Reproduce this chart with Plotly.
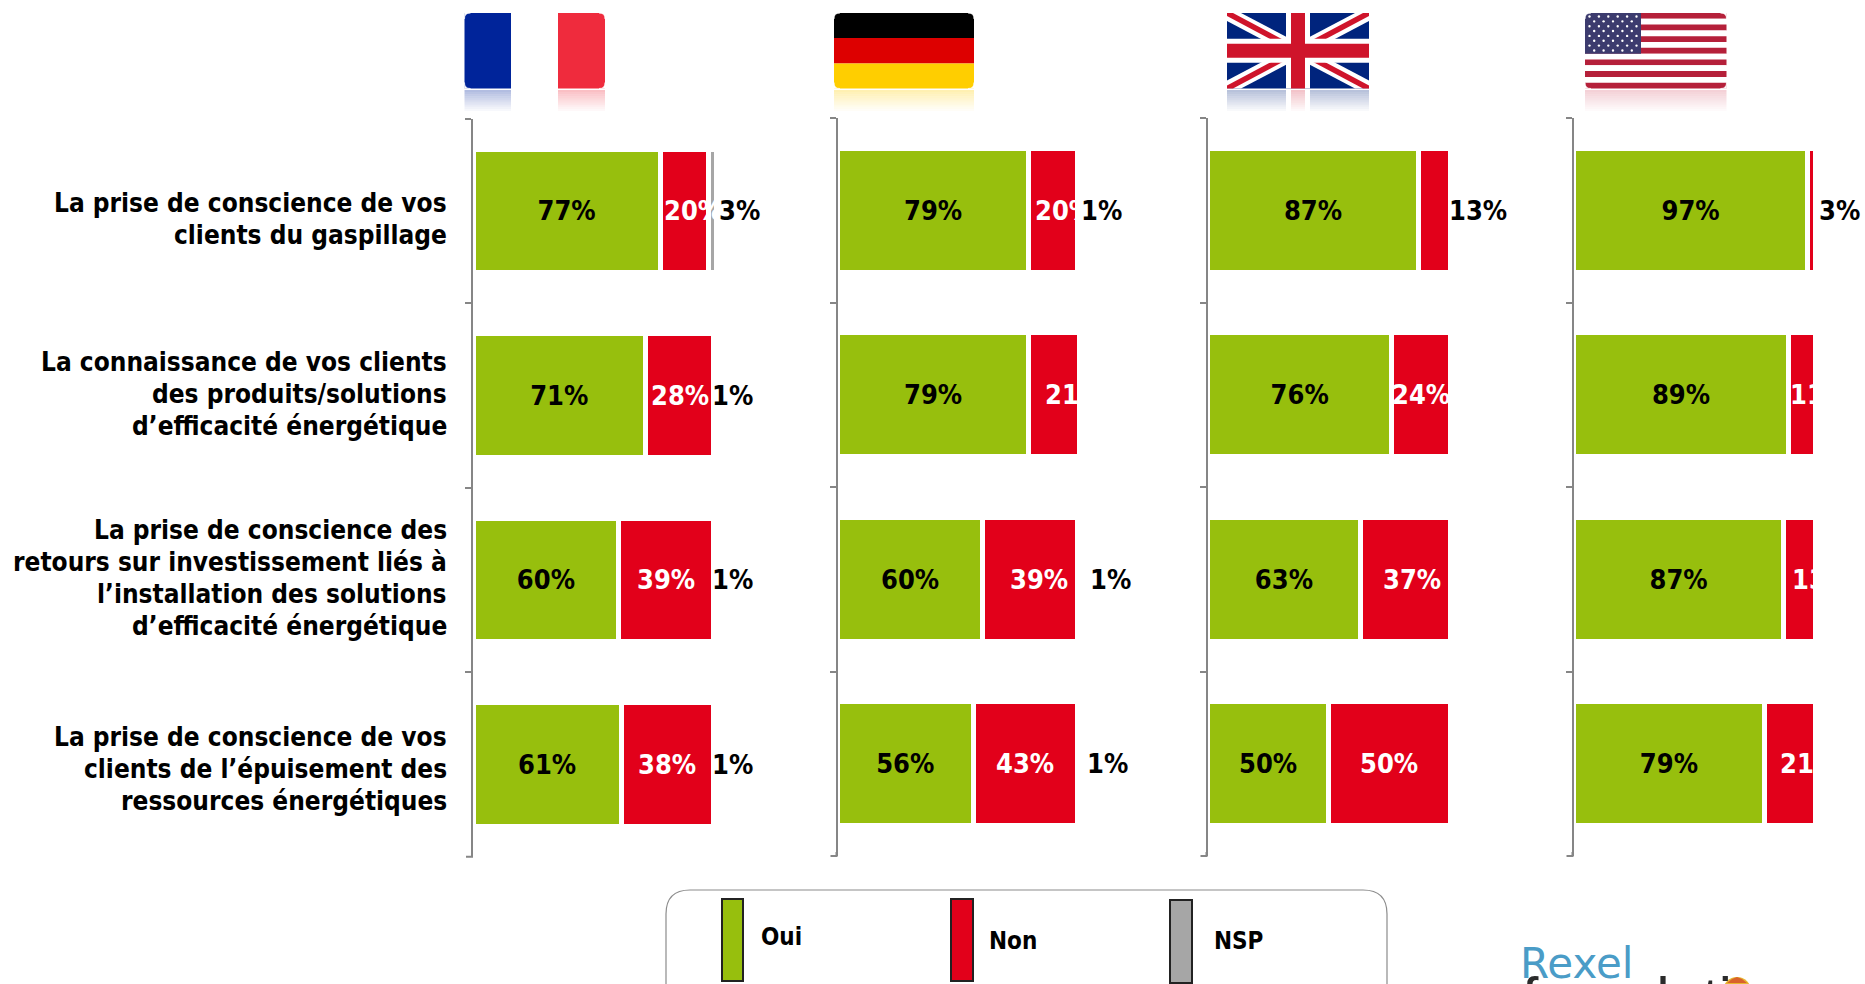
import plotly.graph_objects as go

W, H = 1865, 984

questions = [
    "La prise de conscience de vos<br>clients du gaspillage",
    "La connaissance de vos clients<br>des produits/solutions<br>d’efficacité énergétique",
    "La prise de conscience des<br>retours sur investissement liés à<br>l’installation des solutions<br>d’efficacité énergétique",
    "La prise de conscience de vos<br>clients de l’épuisement des<br>ressources énergétiques",
]
question_centre_px = [219, 394, 577.5, 768.5]
series_names = ["Oui", "Non", "NSP"]

fr_oui = [77, 71, 60, 61]
fr_non = [20, 28, 39, 38]
fr_nsp = [3, 1, 1, 1]
de_oui = [79, 79, 60, 56]
de_non = [20, 21, 39, 43]
de_nsp = [1, 0, 1, 1]
uk_oui = [87, 76, 63, 50]
uk_non = [13, 24, 37, 50]
uk_nsp = [0, 0, 0, 0]
us_oui = [97, 89, 87, 79]
us_non = [3, 11, 13, 21]
us_nsp = [0, 0, 0, 0]

panels = [(fr_oui, fr_non, fr_nsp), (de_oui, de_non, de_nsp),
          (uk_oui, uk_non, uk_nsp), (us_oui, us_non, us_nsp)]

GREEN, RED, GREY, AXIS = "#97BF0D", "#E2001A", "#A6A6A6", "#868686"
FONT = "DejaVu Sans Condensed"
VALUE_SIZE = 27
QUESTION_SIZE = 26
QUESTION_LEADING = 32

# pixel extents of each panel's 0-100 stretch; the axis runs on to 120 to carry the side labels
panel_px = [(473, 716), (837.5, 1079.5), (1207.5, 1450), (1573.5, 1815)]
AXIS_MAX = 120
panel_dy = [0.7, 0, 0, 0]
plot_top, plot_bottom = 118, 856

# labels to the right of the bars: panel, row, value, axis position
outside = [
    (0, 0, 3, 109.6), (0, 1, 1, 106.6), (0, 2, 1, 106.6), (0, 3, 1, 106.6),
    (1, 0, 1, 109.2), (1, 2, 1, 112.8), (1, 3, 1, 111.6),
    (2, 0, 13, 111.7),
    (3, 0, 3, 110.2),
]
no_inside_non = {(2, 0), (3, 0)}
# Non labels that are off-centre in their bars, shift in axis units
non_shift = {(0, 0): 3.7, (1, 0): 4.4, (1, 1): 8.4, (1, 2): 3.7, (2, 2): 2.9,
             (3, 1): 7.1, (3, 2): 9.1, (3, 3): 7.9}

fig = go.Figure()


def X(p):
    return p / W


def Y(p):
    return 1 - p / H


def rect(x0, y0, x1, y1, color, opacity=1.0, line=None, lw=0):
    fig.add_shape(type="rect", xref="paper", yref="paper", x0=X(x0), x1=X(x1), y0=Y(y0), y1=Y(y1),
                  fillcolor=color, opacity=opacity, line=dict(color=line or color, width=lw), layer="below")


def poly(points, color, opacity=1.0):
    path = "M " + " L ".join(f"{X(a):.5f},{Y(b):.5f}" for a, b in points) + " Z"
    fig.add_shape(type="path", xref="paper", yref="paper", path=path, fillcolor=color,
                  opacity=opacity, line=dict(width=0), layer="below")


def corner(x, y, sx, sy, r=6):
    path = f"M {X(x):.5f},{Y(y):.5f} L {X(x + sx * r):.5f},{Y(y):.5f} Q {X(x):.5f},{Y(y):.5f} {X(x):.5f},{Y(y + sy * r):.5f} Z"
    fig.add_shape(type="path", xref="paper", yref="paper", path=path, fillcolor="white",
                  line=dict(color="white", width=0.5), layer="below")


def reflect(x0, x1, color, top=90, step=2.1, n=10, start=0.3):
    for i in range(n):
        rect(x0, top + i * step, x1, top + (i + 1) * step, color, start * (1 - i / n))


for i, (oui, non, nsp) in enumerate(panels):
    suf = "" if i == 0 else str(i + 1)
    a, b = panel_px[i]
    for name, vals, col, txt, tcol in [
        ("Oui", oui, GREEN, [f"{v}%" for v in oui], "black"),
        ("Non", non, RED, None, "white"),
        ("NSP", nsp, GREY, None, "black"),
    ]:
        fig.add_trace(go.Bar(
            name=name, orientation="h", x=vals, y=questions, marker=dict(color=col, line=dict(color="white", width=5)),
            text=txt, textposition="inside" if txt else "none", insidetextanchor="middle",
            constraintext="none", textangle=0, cliponaxis=False,
            textfont=dict(family=FONT, size=VALUE_SIZE, color=tcol, weight="bold"),
            xaxis="x" + suf, yaxis="y" + suf, showlegend=False,
        ))
    dy = panel_dy[i]
    fig.update_layout(**{
        "xaxis" + suf: dict(domain=[X(a), X(a + (b - a) * AXIS_MAX / 100)], range=[0, AXIS_MAX], visible=False,
                            anchor="y" + suf, fixedrange=True),
        "yaxis" + suf: dict(
            domain=[Y(plot_bottom + dy), Y(plot_top + dy)], anchor="x" + suf, type="category", autorange="reversed",
            showline=True, linecolor=AXIS, linewidth=2, ticks="outside", ticklen=6, tickcolor=AXIS, tickwidth=2,
            tickson="boundaries", showgrid=False, zeroline=False, showticklabels=False,
        ),
    })
    # closing tick at the foot of the axis
    fig.add_shape(type="path", xref="paper", yref="paper", layer="below",
                  path=f"M {X(a - 7):.5f},{Y(plot_bottom + dy):.5f} L {X(a - 1):.5f},{Y(plot_bottom + dy):.5f} "
                       f"L {X(a - 1):.5f},{Y(plot_bottom + dy - 4):.5f}",
                  line=dict(color=AXIS, width=2))
    for r, v in enumerate(non):
        if (i, r) in no_inside_non:
            continue
        fig.add_annotation(xref="x" + suf, yref="y" + suf, x=oui[r] + v / 2 + non_shift.get((i, r), 0), y=r,
                           text=f"{v}%", showarrow=False, xanchor="center", yanchor="middle",
                           font=dict(family=FONT, size=VALUE_SIZE, color="white", weight="bold"))

for (p, r, v, pos) in outside:
    suf = "" if p == 0 else str(p + 1)
    fig.add_annotation(xref="x" + suf, yref="y" + suf, x=pos, y=r, text=f"{v}%", showarrow=False,
                       xanchor="center", yanchor="middle",
                       font=dict(family=FONT, size=VALUE_SIZE, color="black", weight="bold"))

for q, cy in zip(questions, question_centre_px):
    lines = q.split("<br>")
    for k, line in enumerate(lines):
        ly = cy + (k - (len(lines) - 1) / 2) * QUESTION_LEADING
        fig.add_annotation(xref="paper", yref="paper", x=X(449), y=Y(ly), text=line, showarrow=False, xanchor="right",
                           yanchor="middle", align="right",
                           font=dict(family=FONT, size=QUESTION_SIZE, color="black", weight="bold"))

# Flags
T, B = 13, 88.5
# France
rect(464.5, T, 511, B, "#00249A")
rect(558, T, 605, B, "#EF2B3D")
reflect(464.5, 511, "#00249A")
reflect(558, 605, "#EF2B3D")
for x, sx in [(464.5, 1), (605, -1)]:
    corner(x, T, sx, 1)
    corner(x, B, sx, -1)
# Germany
rect(834, T, 974, T + 25, "#000000")
rect(834, T + 25, 974, T + 50.5, "#DD0000")
rect(834, T + 50.5, 974, B, "#FFCE00")
reflect(834, 974, "#FFCE00")
for x, sx in [(834, 1), (974, -1)]:
    corner(x, T, sx, 1)
    corner(x, B, sx, -1)
# UK
ux0, ux1 = 1227, 1369
ucx, ucy = (ux0 + ux1) / 2, (T + B) / 2
rect(ux0, T, ux1, B, "#00247D")
for (x_a, y_a, x_b, y_b) in [(ux0, T, ux1, B), (ux1, T, ux0, B)]:
    d = 14 if x_a < x_b else -14
    poly([(x_a, y_a), (x_a + d, y_a), (x_b, y_b - 8), (x_b, y_b), (x_b - d, y_b), (x_a, y_a + 8)], "#FFFFFF")
    d2 = 6 if x_a < x_b else -6
    poly([(x_a, y_a), (x_a + d2, y_a), (x_b, y_b - 3), (x_b, y_b), (x_b - d2, y_b), (x_a, y_a + 3)], "#CF142B")
rect(ucx - 12, T, ucx + 12, B, "#FFFFFF")
rect(ux0, ucy - 12, ux1, ucy + 12, "#FFFFFF")
rect(ucx - 7, T, ucx + 7, B, "#CF142B")
rect(ux0, ucy - 7, ux1, ucy + 7, "#CF142B")
reflect(ux0, ux1, "#00247D", start=0.28)
rect(ucx - 12, 90, ucx + 12, 111, "#FFFFFF")
reflect(ucx - 7, ucx + 7, "#CF142B", start=0.25)
# USA
sx0, sx1 = 1585, 1726.5
hs = (B - T) / 13
for k in range(13):
    rect(sx0, T + k * hs, sx1, T + (k + 1) * hs, "#B5203A" if k % 2 == 0 else "#FFFFFF")
rect(sx0, T, sx0 + 56, T + 7 * hs, "#3C3B6E")
for r in range(9):
    for c in range(6 if r % 2 == 0 else 5):
        cx = sx0 + 4.5 + c * 9.4 + (0 if r % 2 == 0 else 4.7)
        cy = T + 3.5 + r * 4.85
        fig.add_shape(type="circle", xref="paper", yref="paper", x0=X(cx - 1.2), x1=X(cx + 1.2),
                      y0=Y(cy + 1.2), y1=Y(cy - 1.2), fillcolor="#FFFFFF", line=dict(width=0), layer="below")
reflect(sx0, sx1, "#D9667A", start=0.3)
for x, sx in [(sx0, 1), (sx1, -1)]:
    corner(x, T, sx, 1)
    corner(x, B, sx, -1)

# Legend box, running off the bottom of the page
lx0, lx1, ly0, ly1, rad = 666, 1387, 890, 1010, 24
path = (f"M {X(lx0 + rad)},{Y(ly0)} L {X(lx1 - rad)},{Y(ly0)} Q {X(lx1)},{Y(ly0)} {X(lx1)},{Y(ly0 + rad)} "
        f"L {X(lx1)},{Y(ly1 - rad)} Q {X(lx1)},{Y(ly1)} {X(lx1 - rad)},{Y(ly1)} L {X(lx0 + rad)},{Y(ly1)} "
        f"Q {X(lx0)},{Y(ly1)} {X(lx0)},{Y(ly1 - rad)} L {X(lx0)},{Y(ly0 + rad)} Q {X(lx0)},{Y(ly0)} {X(lx0 + rad)},{Y(ly0)} Z")
fig.add_shape(type="path", xref="paper", yref="paper", path=path, line=dict(color="#8C8C8C", width=1.2), layer="below")

legend_swatches = [(722, 743, 899, 981, GREEN), (951, 973, 899, 981, RED), (1170, 1192, 900, 983, GREY)]
legend_text = [(759, 937), (987, 941), (1211.5, 941)]
for (x0, x1, y0, y1, col), (tx, ty), name in zip(legend_swatches, legend_text, series_names):
    rect(x0, y0, x1, y1, col, line="#222222", lw=2)
    fig.add_annotation(xref="paper", yref="paper", x=X(tx), y=Y(ty), text=name, showarrow=False, xanchor="left",
                       yanchor="middle", font=dict(family=FONT, size=24, color="black", weight="bold"))

# Logo, cut off by the bottom of the page
fig.add_shape(type="circle", xref="paper", yref="paper", x0=X(1723), x1=X(1751), y0=Y(1005), y1=Y(977),
              fillcolor="#E8B72F", line=dict(width=0), layer="below")
poly([(1727, 983), (1732, 979), (1737, 977), (1742, 979), (1747, 983)], "#D9622B")
fig.add_annotation(xref="paper", yref="paper", x=X(1518), y=Y(963), text="Rexel", showarrow=False, xanchor="left",
                   yanchor="middle", font=dict(family="DejaVu Sans", size=42, color="#4A9CC7"))
fig.add_annotation(xref="paper", yref="paper", x=X(1520), y=Y(999),
                   text='foundati<span style="color:rgba(0,0,0,0)">o</span>n', showarrow=False, xanchor="left",
                   yanchor="middle", font=dict(family="Liberation Sans", size=59, color="#2B2B2B"))

fig.update_layout(width=W, height=H, autosize=False, margin=dict(l=0, r=0, t=0, b=0), barmode="stack", bargap=0.33,
                  paper_bgcolor="white", plot_bgcolor="white", showlegend=False, hovermode=False,
                  font=dict(family=FONT))

fig.write_html("out.html", config=dict(displayModeBar=False),
               post_script="document.body.style.margin='0';document.documentElement.style.overflow='hidden';")
